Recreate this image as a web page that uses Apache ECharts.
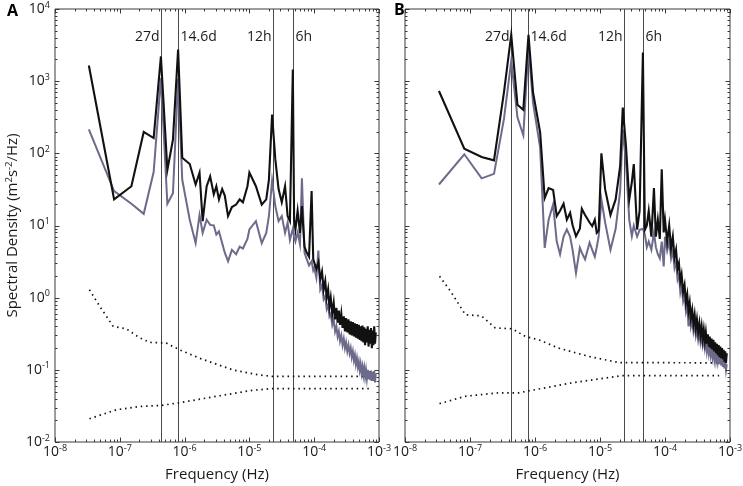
<!DOCTYPE html>
<html>
<head>
<meta charset="utf-8">
<script src="https://cdn.jsdelivr.net/npm/echarts@6/dist/echarts.min.js"></script>
<style>html,body{margin:0;padding:0;background:#fff}#c{width:743px;height:486px}</style>
</head>
<body>
<div id="c"></div>
<script>
// ---------------- data ----------------
const panelLabels = ['A', 'B'];
const xTickExponents = [-8, -7, -6, -5, -4, -3];
const yTickExponents = [-2, -1, 0, 1, 2, 3, 4];
const tideLabels = ['27d', '14.6d', '12h', '6h'];
const tidePeriodHours = [648, 350.4, 12, 6];

// Panel A: low / mid frequencies (Hz) and spectral densities
const freqLowA = [3.33e-8, 8.17e-8, 1.51e-7, 2.34e-7, 3.33e-7, 4.31e-7, 5.42e-7, 6.61e-7, 7.94e-7, 9.2e-7,
  1.2e-6, 1.48e-6, 1.7e-6, 1.9e-6, 2.19e-6, 2.48e-6, 2.82e-6, 3.09e-6, 3.39e-6, 3.8e-6,
  4.17e-6, 4.68e-6, 5.37e-6, 6.24e-6, 7.08e-6, 7.94e-6, 9.33e-6, 1.0e-5, 1.26e-5, 1.55e-5,
  1.82e-5, 2.0e-5, 2.24e-5, 2.51e-5, 2.82e-5, 3.16e-5, 3.55e-5, 3.89e-5, 4.22e-5, 4.68e-5,
  4.9e-5, 5.13e-5, 5.55e-5, 6.03e-5, 6.46e-5, 7.08e-5, 7.59e-5, 8.32e-5, 9.12e-5, 9.66e-5];
const blackLowA = [1650, 23, 35, 198, 163, 2200, 59, 155, 2750, 87,
  71, 37, 54, 11.5, 35, 48, 27, 35, 23, 32,
  26, 13.5, 18, 19.5, 23, 21, 35, 54, 35, 19.5,
  23, 43, 345, 83, 32, 21, 35, 13.5, 11.5, 1450,
  12, 8.8, 16, 7.9, 18.6, 5.1, 4.3, 3.7, 30, 3.4];
const grayLowA = [215, 30, 20, 14.5, 55, 1100, 20, 28, 1070, 43,
  12, 5.7, 14, 7.9, 12, 10.2, 10, 7.5, 8.3, 5.7,
  4.2, 3.2, 4.6, 4.0, 5.1, 4.8, 6.5, 8.8, 11.5, 5.7,
  7.9, 13.5, 42, 18.6, 11.5, 13.5, 7.9, 11, 6.3, 9,
  7, 6, 8, 5.5, 45, 4.2, 3.5, 2.8, 3.2, 2.4];

// Shared high-frequency grid (Hz)
const freqHigh = [1.00e-4, 1.08e-4, 1.16e-4, 1.24e-4, 1.32e-4, 1.40e-4, 1.48e-4, 1.56e-4, 1.64e-4, 1.72e-4,
  1.80e-4, 1.90e-4, 2.00e-4, 2.10e-4, 2.20e-4, 2.30e-4, 2.40e-4, 2.50e-4, 2.62e-4, 2.74e-4,
  2.86e-4, 2.98e-4, 3.10e-4, 3.24e-4, 3.38e-4, 3.52e-4, 3.66e-4, 3.80e-4, 3.95e-4, 4.10e-4,
  4.25e-4, 4.40e-4, 4.56e-4, 4.72e-4, 4.88e-4, 5.04e-4, 5.20e-4, 5.38e-4, 5.56e-4, 5.74e-4,
  5.92e-4, 6.10e-4, 6.30e-4, 6.50e-4, 6.70e-4, 6.90e-4, 7.10e-4, 7.32e-4, 7.54e-4, 7.76e-4,
  7.98e-4, 8.20e-4, 8.44e-4, 8.68e-4, 8.92e-4];
const blackHighA = [3.6, 2.5, 3.1, 1.8, 2.3, 1.3, 1.7, 1.0, 1.3, 0.75,
  1.0, 0.6, 0.85, 0.5, 0.72, 0.45, 0.66, 0.42, 0.6, 0.38,
  0.55, 0.34, 0.52, 0.33, 0.5, 0.31, 0.47, 0.3, 0.46, 0.29,
  0.44, 0.28, 0.43, 0.27, 0.42, 0.26, 0.4, 0.25, 0.41, 0.24,
  0.39, 0.22, 0.37, 0.24, 0.4, 0.21, 0.36, 0.23, 0.38, 0.2,
  0.35, 0.22, 0.4, 0.23, 0.33];
const grayHighA = [2.6, 1.9, 4.5, 1.3, 1.5, 0.95, 1.05, 0.7, 0.8, 0.55,
  0.6, 0.42, 0.5, 0.34, 0.4, 0.29, 0.34, 0.25, 0.3, 0.22,
  0.27, 0.2, 0.24, 0.18, 0.22, 0.17, 0.2, 0.15, 0.18, 0.135,
  0.16, 0.12, 0.145, 0.11, 0.13, 0.1, 0.12, 0.09, 0.11, 0.085,
  0.105, 0.08, 0.1, 0.076, 0.1, 0.074, 0.097, 0.072, 0.098, 0.07,
  0.094, 0.07, 0.096, 0.067, 0.09];

// Panel B
const freqLowB = [3.33e-8, 8.17e-8, 1.51e-7, 2.34e-7, 3.33e-7, 4.31e-7, 5.37e-7, 6.61e-7, 7.94e-7, 9.33e-7,
  1.2e-6, 1.41e-6, 1.62e-6, 1.9e-6, 2.16e-6, 2.43e-6, 2.75e-6, 3.09e-6, 3.47e-6, 3.8e-6,
  4.27e-6, 4.9e-6, 5.25e-6, 5.89e-6, 6.92e-6, 7.59e-6, 8.32e-6, 8.91e-6, 9.55e-6, 1.05e-5,
  1.2e-5, 1.45e-5, 1.74e-5, 2.04e-5, 2.24e-5, 2.51e-5, 2.82e-5, 3.09e-5, 3.31e-5, 3.72e-5,
  4.07e-5, 4.57e-5, 4.9e-5, 5.25e-5, 5.62e-5, 6.17e-5, 6.76e-5, 7.24e-5, 7.76e-5, 8.32e-5,
  8.91e-5, 9.55e-5];
const blackLowB = [730, 116, 89, 80, 700, 4400, 470, 400, 4400, 700,
  195, 24, 33, 31, 13.5, 16, 20, 12, 15, 10,
  7.1, 9, 17, 14, 11, 9.8, 12, 7.9, 8.5, 100,
  31.6, 14, 23, 66, 430, 126, 23, 40, 71, 8.8,
  16, 2500, 8.7, 10, 16, 7, 33, 7, 12, 6.5,
  60, 8];
const grayLowB = [37, 97, 45, 52, 300, 1900, 316, 178, 3000, 500,
  120, 4.9, 12, 19.5, 6, 4, 7, 8.8, 7, 4.5,
  2.2, 4.9, 4.2, 3.4, 5.8, 4.6, 3.7, 5, 7.1, 23,
  11, 4.6, 9, 30, 215, 74, 12, 7.1, 10, 7,
  8.7, 9, 7.5, 5, 6, 4.6, 8, 5, 4, 3.5,
  6, 2.7];
const blackHighB = [12, 6, 10, 4.8, 7, 3.6, 4.6, 2.5, 3.0, 1.7,
  2.1, 1.2, 1.5, 0.85, 1.1, 0.65, 0.85, 0.52, 0.68, 0.43,
  0.58, 0.38, 0.5, 0.33, 0.44, 0.3, 0.4, 0.27, 0.36, 0.25,
  0.33, 0.23, 0.31, 0.21, 0.29, 0.2, 0.27, 0.19, 0.26, 0.18,
  0.24, 0.17, 0.23, 0.16, 0.22, 0.15, 0.21, 0.145, 0.2, 0.14,
  0.19, 0.13, 0.18, 0.125, 0.17];
const grayHighB = [7, 4.5, 6, 3.5, 4.5, 2.6, 3.2, 1.8, 2.1, 1.2,
  1.5, 0.9, 1.1, 0.65, 0.8, 0.4, 0.62, 0.4, 0.5, 0.34,
  0.42, 0.3, 0.37, 0.26, 0.33, 0.24, 0.3, 0.22, 0.27, 0.2,
  0.25, 0.18, 0.23, 0.17, 0.21, 0.16, 0.2, 0.15, 0.19, 0.14,
  0.18, 0.135, 0.17, 0.13, 0.16, 0.12, 0.155, 0.115, 0.15, 0.11,
  0.14, 0.105, 0.135, 0.1, 0.12];

// Confidence (dotted) curves
const ciUpperFreqA = [3.4e-8, 4.9e-8, 7.9e-8, 1.26e-7, 2.0e-7, 2.9e-7, 5.2e-7, 8.3e-7, 1.7e-6, 5.5e-6, 1.4e-5, 2.3e-5, 7.6e-4];
const ciUpperA = [1.29, 0.76, 0.40, 0.37, 0.28, 0.24, 0.235, 0.19, 0.145, 0.1, 0.085, 0.081, 0.081];
const ciLowerFreqA = [3.4e-8, 8.9e-8, 2.0e-7, 4.2e-7, 8.3e-7, 3.1e-6, 1.1e-5, 2.3e-5, 7.6e-4];
const ciLowerA = [0.021, 0.028, 0.031, 0.032, 0.035, 0.043, 0.052, 0.055, 0.055];
const ciUpperFreqB = [3.4e-8, 5.2e-8, 8.5e-8, 1.5e-7, 2.45e-7, 4.5e-7, 7.1e-7, 1.15e-6, 2.3e-6, 6.8e-6, 1.95e-5, 6.8e-4];
const ciUpperB = [1.98, 1.17, 0.58, 0.56, 0.38, 0.37, 0.29, 0.26, 0.2, 0.153, 0.126, 0.125];
const ciLowerFreqB = [3.4e-8, 8.5e-8, 2.7e-7, 5.6e-7, 8.9e-7, 3.7e-6, 2.2e-5, 6.8e-4];
const ciLowerB = [0.034, 0.043, 0.048, 0.048, 0.052, 0.066, 0.083, 0.083];

// ---------------- chart ----------------
const FONT = '"Open Sans", "Noto Sans", sans-serif';
const TXT = '#1a1a1a';
const BLACK = '#111111';
const GRAY = '#6d6b8b';
const FRAME = '#3a3a3a';

const zip = (xs, ys) => xs.map((x, i) => [x, ys[i]]);
const tideFreqs = tidePeriodHours.map(h => 1 / (h * 3600));
const tideSide = { '27d': 'right', '14.6d': 'left', '12h': 'right', '6h': 'left' };

const X_MIN = Math.pow(10, xTickExponents[0]), X_MAX = Math.pow(10, xTickExponents[xTickExponents.length - 1]);
const Y_MIN = Math.pow(10, yTickExponents[0]), Y_MAX = Math.pow(10, yTickExponents[yTickExponents.length - 1]);

function minorValues(exps) {
  const out = [];
  for (let i = 0; i < exps.length; i++) {
    const base = Math.pow(10, exps[i]);
    out.push(base);
    if (i < exps.length - 1) for (let k = 2; k <= 9; k++) out.push(k * base);
  }
  return out;
}
const xTickVals = minorValues(xTickExponents);
const yTickVals = minorValues(yTickExponents);

const rich = {
  b: { fontSize: 14, fontFamily: FONT, color: TXT, lineHeight: 17 },
  s: { fontSize: 9, fontFamily: FONT, color: TXT, lineHeight: 8, verticalAlign: 'top' }
};
const powLabel = v => '{b|10}{s|' + String(Math.round(Math.log10(v))) + '}';

const grids = [
  { left: 55, top: 9, width: 324, height: 433 },
  { left: 405, top: 9, width: 325, height: 433 }
];

const xAxes = grids.map((g, i) => ({
  type: 'log', logBase: 10, gridIndex: i, min: X_MIN, max: X_MAX, splitNumber: 5,
  axisLine: { show: false }, axisTick: { show: false }, splitLine: { show: false },
  axisLabel: { formatter: powLabel, rich: rich, margin: 2 },
  name: 'Frequency (Hz)', nameLocation: 'middle', nameGap: 25,
  nameTextStyle: { fontSize: 15, fontFamily: FONT, color: TXT }
}));
const yAxes = grids.map((g, i) => ({
  type: 'log', logBase: 10, gridIndex: i, min: Y_MIN, max: Y_MAX, splitNumber: 6,
  axisLine: { show: false }, axisTick: { show: false }, splitLine: { show: false },
  axisLabel: { show: i === 0, formatter: powLabel, rich: rich, margin: 5 },
  name: i === 0 ? '{n|Spectral Density (m}{s|2}{n|s}{s|-2}{n|/Hz)}' : '',
  nameLocation: 'middle', nameGap: 33,
  nameTextStyle: {
    fontSize: 15, fontFamily: FONT, color: TXT,
    rich: {
      n: { fontSize: 15, fontFamily: FONT, color: TXT, lineHeight: 18 },
      s: { fontSize: 9.5, fontFamily: FONT, color: TXT, lineHeight: 9, verticalAlign: 'top' }
    }
  }
}));

function tickSeries(gi, dim) {
  return {
    type: 'custom', xAxisIndex: gi, yAxisIndex: gi, silent: true, z: 6, clip: false,
    data: (dim === 'x' ? xTickVals : yTickVals).map(v => dim === 'x' ? [v, 1] : [1e-5, v]),
    renderItem: (params, api) => {
      const cs = params.coordSys;
      const v = api.value(dim === 'x' ? 0 : 1);
      const e = Math.log10(v);
      const major = Math.abs(e - Math.round(e)) < 1e-6;
      const len = major ? 4.5 : 2.5;
      const st = { stroke: FRAME, lineWidth: 1 };
      if (dim === 'x') {
        const px = Math.round(api.coord([v, 1])[0]) + 0.5;
        const yb = cs.y + cs.height, yt = cs.y;
        return { type: 'group', children: [
          { type: 'line', shape: { x1: px, y1: yb, x2: px, y2: yb - len }, style: st },
          { type: 'line', shape: { x1: px, y1: yt, x2: px, y2: yt + len }, style: st }
        ] };
      } else {
        const py = Math.round(api.coord([1e-5, v])[1]) + 0.5;
        const xl = cs.x, xr = cs.x + cs.width;
        return { type: 'group', children: [
          { type: 'line', shape: { x1: xl, y1: py, x2: xl + len, y2: py }, style: st },
          { type: 'line', shape: { x1: xr, y1: py, x2: xr - len, y2: py }, style: st }
        ] };
      }
    }
  };
}

function tideSeries(gi) {
  return {
    type: 'custom', xAxisIndex: gi, yAxisIndex: gi, silent: true, z: 1, clip: false,
    data: tideFreqs.map((f, i) => ({ value: [f, 1], name: tideLabels[i] })),
    renderItem: (params, api) => {
      const cs = params.coordSys;
      const px = Math.round(api.coord([api.value(0), 1])[0]) + 0.5;
      const lab = tideLabels[params.dataIndex];
      const side = tideSide[lab];
      return { type: 'group', children: [
        { type: 'line', shape: { x1: px, y1: cs.y, x2: px, y2: cs.y + cs.height }, style: { stroke: '#4a4a4a', lineWidth: 1 } },
        { type: 'text', x: side === 'right' ? px - 2 : px + 2, y: cs.y + 28,
          style: { text: lab, align: side, verticalAlign: 'middle', fontSize: 14, fontFamily: FONT, fill: TXT } }
      ] };
    }
  };
}

function lineSeries(gi, data, color, width, dashed, z) {
  return {
    type: 'line', xAxisIndex: gi, yAxisIndex: gi, data: data, showSymbol: false, symbol: 'none',
    silent: true, z: z, clip: true,
    lineStyle: dashed
      ? { color: color, width: 1.7, type: [1.5, 3.8], cap: 'butt' }
      : { color: color, width: width, join: 'miter' }
  };
}

const panels = [
  { black: zip(freqLowA, blackLowA).concat(zip(freqHigh, blackHighA)),
    gray: zip(freqLowA, grayLowA).concat(zip(freqHigh, grayHighA)),
    ciU: zip(ciUpperFreqA, ciUpperA), ciL: zip(ciLowerFreqA, ciLowerA) },
  { black: zip(freqLowB, blackLowB).concat(zip(freqHigh, blackHighB)),
    gray: zip(freqLowB, grayLowB).concat(zip(freqHigh, grayHighB)),
    ciU: zip(ciUpperFreqB, ciUpperB), ciL: zip(ciLowerFreqB, ciLowerB) }
];

const series = [];
panels.forEach((p, gi) => {
  series.push(tideSeries(gi));
  series.push(lineSeries(gi, p.ciU, BLACK, 1.6, true, 2));
  series.push(lineSeries(gi, p.ciL, BLACK, 1.6, true, 2));
  series.push(lineSeries(gi, p.gray, GRAY, 2, false, 3));
  series.push(lineSeries(gi, p.black, BLACK, 2.1, false, 4));
  series.push(tickSeries(gi, 'x'));
  series.push(tickSeries(gi, 'y'));
});

const chart = echarts.init(document.getElementById('c'), null, { renderer: 'canvas' });
chart.setOption({
  animation: false,
  backgroundColor: '#fff',
  title: [
    { text: panelLabels[0], left: 2, top: -2, textStyle: { fontSize: 16, fontWeight: 'bold', fontFamily: FONT, color: '#000' } },
    { text: panelLabels[1], left: 389, top: -3, textStyle: { fontSize: 16, fontWeight: 'bold', fontFamily: FONT, color: '#000' } }
  ],
  grid: grids.map(g => Object.assign({ show: true, borderColor: FRAME, borderWidth: 1, backgroundColor: 'transparent', containLabel: false, outerBoundsMode: 'none' }, g)),
  xAxis: xAxes,
  yAxis: yAxes,
  series: series
});
</script>
</body>
</html>
